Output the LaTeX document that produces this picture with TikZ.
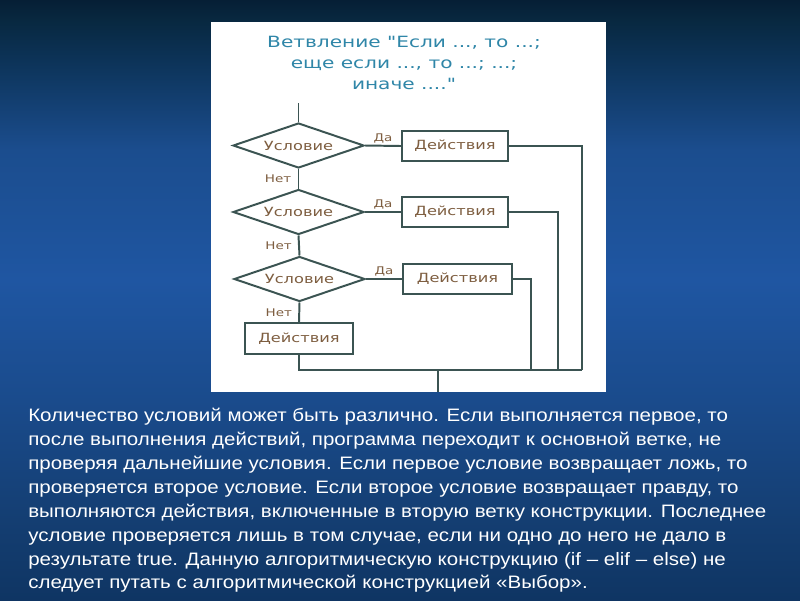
\documentclass[tikz,border=0pt]{standalone}
\usepackage{fontspec}
\setmainfont{Liberation Sans}[FakeStretch=1.14]
\newfontfamily\chartfont{DejaVu Sans}[FakeStretch=1.28]
\newfontfamily\headfont{DejaVu Sans}[FakeStretch=1.3]
\usetikzlibrary{shapes.geometric,calc}
\definecolor{flowline}{HTML}{3B5452}
\definecolor{flowtext}{HTML}{7E5E40}
\definecolor{titleblue}{HTML}{2F86A8}
\definecolor{bgF}{HTML}{0F3563}
\definecolor{bgE}{HTML}{143E72}
\definecolor{bgD}{HTML}{1A4B8C}
\definecolor{bgC}{HTML}{1F56A2}
\definecolor{bgB}{HTML}{1B4D8E}
\definecolor{bgA}{HTML}{0C3358}
\definecolor{bgT}{HTML}{082840}
\definecolor{bgTT}{HTML}{061F35}
\pgfdeclareverticalshading{slidebg}{100bp}{
    color(0bp)=(bgF); color(25bp)=(bgF); color(31.67bp)=(bgE); color(41.67bp)=(bgD);
    color(51.67bp)=(bgC); color(62.5bp)=(bgB); color(70bp)=(bgA); color(73.33bp)=(bgT);
    color(75bp)=(bgTT); color(100bp)=(bgTT)}
\tikzset{
    cond/.style =   {diamond,
                    aspect=2.9,
                    draw=flowline,
                    fill=white,
                    text=flowtext,
                    line width=1.4pt,
                    inner sep=0pt,
                    minimum width=3.275cm,
                    minimum height=1.125cm,
                    font=\chartfont\fontsize{9}{11}\selectfont},
    act/.style =    {rectangle,
                    draw=flowline,
                    fill=white,
                    text=flowtext,
                    line width=1.4pt,
                    inner sep=0pt,
                    minimum width=2.65cm,
                    minimum height=0.75cm,
                    font=\chartfont\fontsize{9}{11}\selectfont},
    answer/.style = {text=flowtext,
                    inner sep=1pt,
                    font=\chartfont\fontsize{7.5}{9}\selectfont},
    flow/.style =   {draw=flowline,
                    line width=1.4pt}}

\begin{document}
\begin{tikzpicture}[x=0.025cm,y=-0.025cm]
    \useasboundingbox (0,0) rectangle (800,600);
    \shade[shading=slidebg] (0,0) rectangle (800,600);
    \fill[white] (211,22) rectangle (606,392);

    \node[text=titleblue,align=center,font=\headfont\fontsize{11}{14.9}\selectfont] (title) at (404,63)
        {Ветвление "Если ..., то ...;\\еще если ..., то ...; ...;\\иначе ...."};

    \coordinate (start) at (298.5,103);
    \node[cond] (C1) at (298.5,145.5) {Условие};
    \node[cond] (C2) at (298.5,212)   {Условие};
    \node[cond] (C3) at (299.5,279)   {Условие};
    \node[act]  (A1) at (455,146)     {Действия};
    \node[act]  (A2) at (455,212)     {Действия};
    \node[act,minimum width=2.725cm]  (A3) at (457.5,279) {Действия};
    \node[act,minimum width=2.7cm,minimum height=0.775cm] (A4) at (299,338.5) {Действия};
    \coordinate (R1) at (582,370);
    \coordinate (R2) at (558,370);
    \coordinate (R3) at (531,370);
    \coordinate (join) at (438,370);
    \coordinate (exit) at (438,392);

    \draw[flow] (start) -- (C1.north);
    \draw[flow] (C1.south) -- node[answer,left,xshift=-0.12cm,pos=0.5] {Нет} (C2.north);
    \draw[flow] (C2.south) -- node[answer,left,xshift=-0.12cm,pos=0.5] {Нет} (C3.north);
    \draw[flow] (C3.south) -- node[answer,left,xshift=-0.12cm,pos=0.5] {Нет} (A4.north);
    \draw[flow] (C1.east) -- node[answer,above,pos=0.5] {Да} (A1.west);
    \draw[flow] (C2.east) -- node[answer,above,pos=0.5] {Да} (A2.west);
    \draw[flow] (C3.east) -- node[answer,above,pos=0.5] {Да} (A3.west);
    \draw[flow] (A1.east) -| (R1);
    \draw[flow] (A2.east) -| (R2);
    \draw[flow] (A3.east) -| (R3);
    \draw[flow] (A4.south) |- (R1);
    \draw[flow] (join) -- (exit);

    \node[text=white,align=left,anchor=north west,inner sep=0pt,font=\fontsize{12.8}{17}\selectfont] (notes) at (28,408)
        {Количество условий может быть различно. Если выполняется первое, то\\
        после выполнения действий, программа переходит к основной ветке, не\\
        проверяя дальнейшие условия. Если первое условие возвращает ложь, то\\
        проверяется второе условие. Если второе условие возвращает правду, то\\
        выполняются действия, включенные в вторую ветку конструкции. Последнее\\
        условие проверяется лишь в том случае, если ни одно до него не дало в\\
        результате true. Данную алгоритмическую конструкцию (if – elif – else) не\\
        следует путать с алгоритмической конструкцией «Выбор».};
\end{tikzpicture}
\end{document}
